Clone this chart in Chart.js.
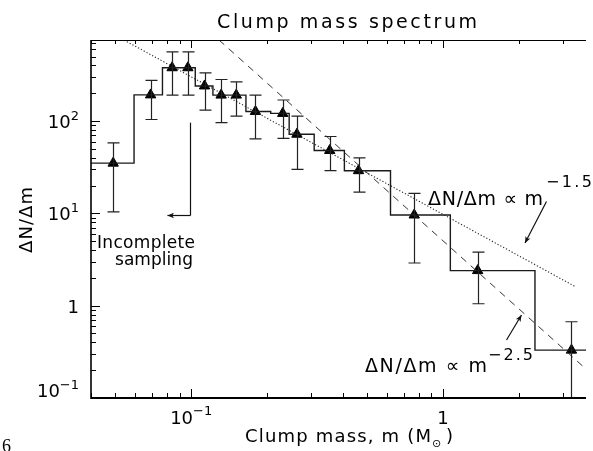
<!DOCTYPE html>
<html>
<head>
<meta charset="utf-8">
<script src="https://cdn.jsdelivr.net/npm/chart.js@4.4.1/dist/chart.umd.min.js"></script>
<style>
html, body { margin: 0; padding: 0; background: #fff; overflow: hidden; }
</style>
</head>
<body>
<canvas id="myChart" width="593" height="451"></canvas>
<script>
// Histogram bin edges (M_sun) and levels dN/dm
const binEdges = [0.035, 0.0593, 0.0769, 0.090, 0.1038, 0.122, 0.141, 0.165, 0.207, 0.245, 0.308, 0.406, 0.619, 1.07, 2.32, 5];
const binValues = [35, 192, 378, 378, 240, 191, 191, 127, 121, 72, 48, 29, 9.6, 2.4, 0.33];

// Triangle markers and error bars
const pointMass = [0.049, 0.069, 0.084, 0.097, 0.113, 0.1315, 0.151, 0.180, 0.231, 0.263, 0.355, 0.462, 0.769, 1.374, 3.24];
const errLow = [10.4, 104, 191, 191, 131, 96, 113, 64, 65, 30, 29, 17, 2.9, 1.05, 0.05];
const errHigh = [58, 276, 561, 561, 333, 282, 266, 191, 169, 113, 68, 40, 16.5, 3.8, 0.67];

// Power-law guides, end points
const slope15Mass = [0.0541, 3.38];
const slope15Vals = [753, 1.59];
const slope25Mass = [0.129, 3.7];
const slope25Vals = [755, 0.206];

// Completeness limit arrow
const limitMass = 0.1;
const limitTop = 96;
const limitBottom = 9.5;
const limitArrowEnd = 0.0805;

// Axes
const xMin = 0.04, xMax = 3.7, yMin = 0.1, yMax = 755;
const xTickVals = [0.1, 1];
const xTickLabels = [['10', '\u22121'], ['1', '']];
const yTickVals = [0.1, 1, 10, 100];
const yTickLabels = [['10', '\u22121'], ['1', ''], ['10', '1'], ['10', '2']];

const FONT = '"DejaVu Sans", sans-serif';

function toXY(xs, ys) {
    return xs.map((x, i) => ({ x: x, y: ys[i] }));
}

// Text stretched to the width it has in the figure
function fitText(ctx, text, x, y, size, width, family) {
    ctx.font = size + 'px ' + (family || FONT);
    ctx.letterSpacing = '0px';
    const w = ctx.measureText(text).width;
    if (width && text.length > 1) {
        ctx.letterSpacing = ((width - w) / (text.length - 1)).toFixed(2) + 'px';
    }
    ctx.textAlign = 'left';
    ctx.fillText(text, x, y);
    ctx.letterSpacing = '0px';
}

function arrow(ctx, x1, y1, x2, y2) {
    const a = Math.atan2(y2 - y1, x2 - x1);
    const len = 7, spread = 0.4;
    ctx.beginPath();
    ctx.moveTo(x1, y1);
    ctx.lineTo(x2, y2);
    ctx.stroke();
    ctx.beginPath();
    ctx.moveTo(x2, y2);
    ctx.lineTo(x2 - len * Math.cos(a - spread), y2 - len * Math.sin(a - spread));
    ctx.lineTo(x2 - len * 0.7 * Math.cos(a), y2 - len * 0.7 * Math.sin(a));
    ctx.lineTo(x2 - len * Math.cos(a + spread), y2 - len * Math.sin(a + spread));
    ctx.closePath();
    ctx.fill();
}

function minorTicks(min, max) {
    const out = [];
    for (let k = -3; k <= 3; k++) {
        for (let d = 1; d <= 9; d++) {
            const v = d * Math.pow(10, k);
            if (v >= min * 0.999 && v <= max * 1.001) out.push({ v: v, major: d === 1 });
        }
    }
    return out;
}

// Histogram as a stepped line through the bin edges
const histData = binEdges.map((e, i) => ({ x: e, y: binValues[Math.min(i, binValues.length - 1)] }));

const errorBars = {
    id: 'errorBars',
    afterDatasetsDraw(chart) {
        const { ctx, chartArea, scales: { x, y } } = chart;
        ctx.save();
        ctx.beginPath();
        ctx.rect(chartArea.left, chartArea.top, chartArea.right - chartArea.left, chartArea.bottom - chartArea.top);
        ctx.clip();
        ctx.strokeStyle = '#222';
        ctx.lineWidth = 1.2;
        pointMass.forEach((m, i) => {
            const px = Math.round(x.getPixelForValue(m)) + 0.5;
            const yl = y.getPixelForValue(errLow[i]);
            const yh = y.getPixelForValue(errHigh[i]);
            ctx.beginPath();
            ctx.moveTo(px, yl); ctx.lineTo(px, yh);
            ctx.moveTo(px - 6, yl); ctx.lineTo(px + 6, yl);
            ctx.moveTo(px - 6, yh); ctx.lineTo(px + 6, yh);
            ctx.stroke();
        });
        ctx.restore();
    }
};

const frame = {
    id: 'frame',
    afterDraw(chart) {
        const { ctx, chartArea: a, scales: { x, y } } = chart;
        ctx.save();
        ctx.strokeStyle = '#000';
        ctx.fillStyle = '#000';

        // axis lines
        ctx.lineWidth = 1;
        ctx.beginPath(); ctx.moveTo(a.left, a.top + 0.5); ctx.lineTo(a.right, a.top + 0.5); ctx.stroke();
        ctx.lineWidth = 2;
        ctx.beginPath(); ctx.moveTo(a.left, a.bottom); ctx.lineTo(a.right, a.bottom); ctx.stroke();
        ctx.lineWidth = 1.6;
        ctx.beginPath(); ctx.moveTo(a.left, a.top); ctx.lineTo(a.left, a.bottom + 1); ctx.stroke();

        // ticks, pointing inward
        ctx.lineWidth = 1;
        minorTicks(xMin, xMax).forEach(t => {
            const px = Math.round(x.getPixelForValue(t.v)) + 0.5;
            const L = t.major ? 9 : 5;
            ctx.beginPath();
            ctx.moveTo(px, a.bottom); ctx.lineTo(px, a.bottom - L);
            ctx.moveTo(px, a.top); ctx.lineTo(px, a.top + L - 1);
            ctx.stroke();
        });
        minorTicks(yMin, yMax).forEach(t => {
            const py = Math.round(y.getPixelForValue(t.v)) + 0.5;
            const L = t.major ? 9 : 5;
            ctx.beginPath();
            ctx.moveTo(a.left, py); ctx.lineTo(a.left + L, py);
            ctx.stroke();
        });

        // tick labels
        ctx.textBaseline = 'alphabetic';
        xTickVals.forEach((v, i) => {
            const [base, exp] = xTickLabels[i];
            ctx.font = '18px ' + FONT;
            const wb = ctx.measureText(base).width;
            ctx.font = '13px ' + FONT;
            const we = exp ? ctx.measureText(exp).width : 0;
            const x0 = x.getPixelForValue(v) - (wb + we) / 2;
            ctx.font = '18px ' + FONT;
            ctx.textAlign = 'left';
            ctx.fillText(base, x0, 424);
            if (exp) { ctx.font = '13px ' + FONT; ctx.fillText(exp, x0 + wb, 415); }
        });
        yTickVals.forEach((v, i) => {
            const [base, exp] = yTickLabels[i];
            ctx.font = '18px ' + FONT;
            const wb = ctx.measureText(base).width;
            ctx.font = '13px ' + FONT;
            const we = exp ? ctx.measureText(exp).width : 0;
            let yb = y.getPixelForValue(v) + 7;
            if (v === yMin) yb -= 8;
            const x0 = 79 - wb - we;
            ctx.font = '18px ' + FONT;
            ctx.textAlign = 'left';
            ctx.fillText(base, x0, yb);
            if (exp) { ctx.font = '13px ' + FONT; ctx.fillText(exp, x0 + wb, yb - 8); }
        });

        // titles
        fitText(ctx, 'Clump mass spectrum', 217, 28, 19, 260);
        fitText(ctx, 'Clump mass, m (M', 245, 442, 18, 186);
        fitText(ctx, '\u2299', 432, 447, 11, 0);
        fitText(ctx, ')', 446, 442, 18, 0);

        ctx.save();
        ctx.translate(32, 253);
        ctx.rotate(-Math.PI / 2);
        fitText(ctx, '\u0394N/\u0394m', 0, 0, 18, 66);
        ctx.restore();

        // annotations
        fitText(ctx, 'Incomplete', 97, 248, 17, 98);
        fitText(ctx, 'sampling', 115, 265, 17, 78);
        fitText(ctx, '\u0394N/\u0394m \u221D m', 428, 205, 19, 115);
        fitText(ctx, '\u22121.5', 546, 187, 16, 46);
        fitText(ctx, '\u0394N/\u0394m \u221D m', 365, 372, 19, 122);
        fitText(ctx, '\u22122.5', 488, 360, 16, 45);
        fitText(ctx, '6', 2, 452, 18, 0, '"Liberation Serif", serif');

        // arrows
        ctx.lineWidth = 1.2;
        ctx.strokeStyle = '#111';
        ctx.fillStyle = '#111';
        const lx = Math.round(x.getPixelForValue(limitMass)) - 0.5;
        const ly1 = y.getPixelForValue(limitTop);
        const ly2 = Math.round(y.getPixelForValue(limitBottom)) + 0.5;
        ctx.beginPath(); ctx.moveTo(lx, ly1); ctx.lineTo(lx, ly2); ctx.stroke();
        arrow(ctx, lx, ly2, x.getPixelForValue(limitArrowEnd), ly2);
        arrow(ctx, 546.5, 201.5, 525, 243);
        arrow(ctx, 506.5, 340, 521.5, 315);
        ctx.restore();
    }
};

const ctx = document.getElementById('myChart').getContext('2d');
const myChart = new Chart(ctx, {
    type: 'line',
    data: {
        datasets: [
            {
                label: 'm^-1.5',
                data: toXY(slope15Mass, slope15Vals),
                borderColor: '#222',
                borderWidth: 1.1,
                borderDash: [1.2, 2],
                pointRadius: 0,
                fill: false
            },
            {
                label: 'm^-2.5',
                data: toXY(slope25Mass, slope25Vals),
                borderColor: '#333',
                borderWidth: 1,
                borderDash: [7, 6],
                pointRadius: 0,
                fill: false
            },
            {
                label: 'histogram',
                data: histData,
                stepped: 'before',
                borderColor: '#1a1a1a',
                borderWidth: 1.4,
                pointRadius: 0,
                fill: false
            },
            {
                label: 'clumps',
                data: toXY(pointMass, binValues),
                showLine: false,
                pointStyle: 'triangle',
                pointRadius: 6,
                backgroundColor: '#000',
                borderColor: '#000',
                borderWidth: 1
            }
        ]
    },
    options: {
        responsive: false,
        animation: false,
        layout: { padding: { left: 91, right: 0, top: 40, bottom: 53 } },
        plugins: { legend: { display: false }, tooltip: { enabled: false } },
        scales: {
            x: { type: 'logarithmic', min: xMin, max: xMax, bounds: 'data', display: false },
            y: { type: 'logarithmic', min: yMin, max: yMax, bounds: 'data', display: false }
        }
    },
    plugins: [errorBars, frame]
});
</script>
</body>
</html>
